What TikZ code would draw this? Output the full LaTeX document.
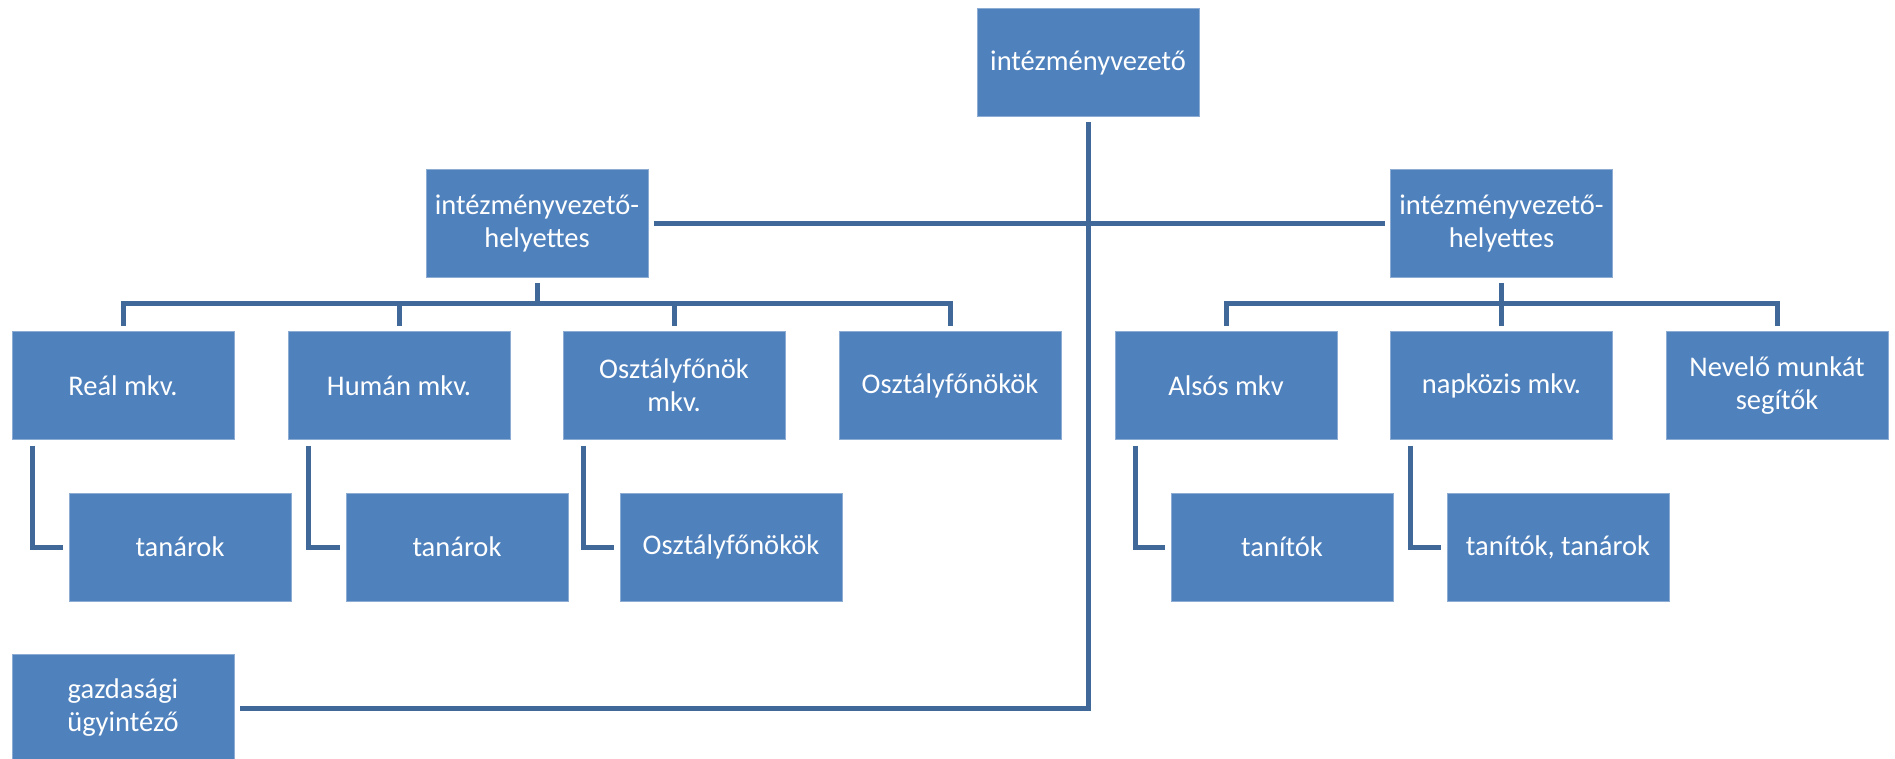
\documentclass[tikz,border=0pt]{standalone}
\usepackage{fontspec}
\setmainfont{Carlito}
\usetikzlibrary{calc}
\definecolor{boxblue}{RGB}{79,129,189}
\definecolor{boxedge}{RGB}{140,172,212}
\definecolor{lineblue}{RGB}{64,104,153}
\begin{document}
\begin{tikzpicture}[x=1pt,y=-1pt,
  orgbox/.style={draw=boxedge, line width=0.8pt, fill=boxblue, text=white,
    minimum width=222pt, minimum height=108pt, inner sep=0pt, outer sep=0pt,
    align=center, font=\fontsize{28.5}{33}\selectfont},
  conn/.style={draw=lineblue, line width=5pt}]
\useasboundingbox (0,0) rectangle (1895,759);
% boxes
\node[orgbox] (top) at (1088,62.5) {intézményvezető};
\node[orgbox] (vpl) at (537,223.5) {intézményvezető-\\helyettes};
\node[orgbox] (vpr) at (1501.5,223.5) {intézményvezető-\\helyettes};
\node[orgbox] (real) at (123,385.5) {Reál mkv.};
\node[orgbox] (human) at (399,385.5) {Humán mkv.};
\node[orgbox] (ofmkv) at (674,385.5) {Osztályfőnök\\mkv.};
\node[orgbox] (of) at (950,385.5) {Osztályfőnökök};
\node[orgbox] (also) at (1226,385.5) {Alsós mkv};
\node[orgbox] (napk) at (1501.5,385.5) {napközis mkv.};
\node[orgbox] (nev) at (1777,385.5) {Nevelő munkát\\segítők};
\node[orgbox] (tan1) at (180,547) {tanárok};
\node[orgbox] (tan2) at (457,547) {tanárok};
\node[orgbox] (of2) at (731,547) {Osztályfőnökök};
\node[orgbox] (tanit) at (1282,547) {tanítók};
\node[orgbox] (tantan) at (1558,547) {tanítók, tanárok};
\node[orgbox] (gazd) at (123,708) {gazdasági\\ügyintéző};
% connectors
\draw[conn] ($(top.south)+(0,6)$) |- ($(gazd.east)+(6,0)$);
\draw[conn] ($(vpl.east)+(6,0)$) -- ($(vpr.west)+(-6,0)$);
\foreach \c in {real,human,ofmkv,of}
  \draw[conn] ($(vpl.south)+(0,6)$) -- ++(0,20) -| ($(\c.north)+(0,-6)$);
\foreach \c in {also,napk,nev}
  \draw[conn] ($(vpr.south)+(0,6)$) -- ++(0,20) -| ($(\c.north)+(0,-6)$);
\draw[conn] ($(real.south west)+(20,6)$) |- ($(tan1.west)+(-6,0)$);
\draw[conn] ($(human.south west)+(20,6)$) |- ($(tan2.west)+(-6,0)$);
\draw[conn] ($(ofmkv.south west)+(20,6)$) |- ($(of2.west)+(-6,0)$);
\draw[conn] ($(also.south west)+(20,6)$) |- ($(tanit.west)+(-6,0)$);
\draw[conn] ($(napk.south west)+(20,6)$) |- ($(tantan.west)+(-6,0)$);
\end{tikzpicture}
\end{document}
